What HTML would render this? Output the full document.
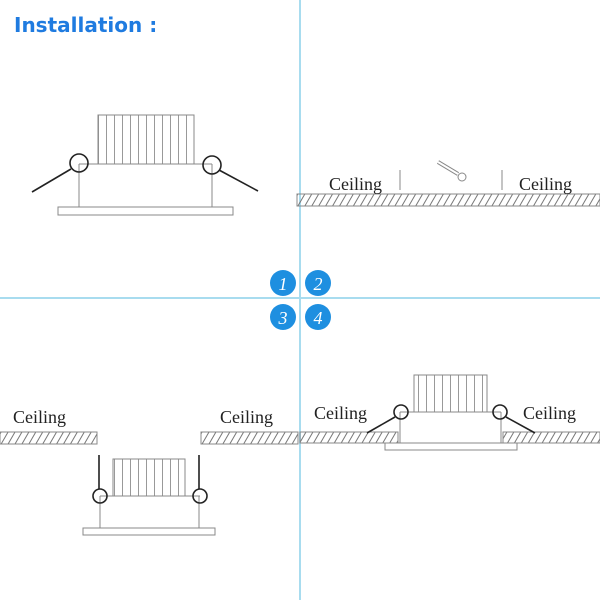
<!DOCTYPE html>
<html><head><style>body{margin:0;background:#fff}svg{display:block}</style></head><body>
<svg width="600" height="600" viewBox="0 0 600 600" xmlns="http://www.w3.org/2000/svg">
<defs>
<pattern id="h" width="6" height="6" patternUnits="userSpaceOnUse" patternTransform="rotate(30)">
<line x1="1" y1="-1" x2="1" y2="7" stroke="#777" stroke-width="1"/>
</pattern>
<pattern id="f" width="8" height="100" patternUnits="userSpaceOnUse" x="98">
<line x1="0.5" y1="0" x2="0.5" y2="100" stroke="#999" stroke-width="1"/>
</pattern>
</defs>
<text x="14" y="32" font-family="DejaVu Sans, sans-serif" font-weight="bold" font-size="20" fill="#1f7be0">Installation :</text>
<line x1="300" y1="0" x2="300" y2="600" stroke="#a8dcef" stroke-width="2"/>
<line x1="0" y1="298" x2="600" y2="298" stroke="#a8dcef" stroke-width="2"/>
<g font-family="Liberation Serif, serif" font-style="italic" font-size="18" fill="#fff" text-anchor="middle">
<circle cx="283" cy="283" r="13" fill="#1e8fe0"/><text x="283" y="290">1</text>
<circle cx="318" cy="283" r="13" fill="#1e8fe0"/><text x="318" y="290">2</text>
<circle cx="283" cy="317" r="13" fill="#1e8fe0"/><text x="283" y="324">3</text>
<circle cx="318" cy="317" r="13" fill="#1e8fe0"/><text x="318" y="324">4</text>
</g>
<g stroke="#888" fill="none" stroke-width="1">
<rect x="98" y="115" width="96" height="49" fill="url(#f)"/>
<rect x="98" y="115" width="96" height="49"/>
<line x1="79" y1="164" x2="212" y2="164"/>
<line x1="79" y1="164" x2="79" y2="207"/><line x1="212" y1="164" x2="212" y2="207"/>
<rect x="58" y="207" width="175" height="8"/>
<rect x="297" y="194" width="303" height="12" fill="url(#h)"/>
<line x1="297" y1="194" x2="600" y2="194"/><line x1="297" y1="206" x2="600" y2="206"/>
<line x1="400" y1="170" x2="400" y2="190"/><line x1="502" y1="170" x2="502" y2="190"/>
<line x1="438" y1="162" x2="458" y2="174" stroke-width="4" stroke="#888"/>
<line x1="438" y1="162" x2="458" y2="174" stroke-width="2" stroke="#fff"/>
<circle cx="462" cy="177" r="4" fill="#fff"/>
<rect x="0" y="432" width="97" height="12" fill="url(#h)"/><rect x="0" y="432" width="97" height="12"/>
<rect x="201" y="432" width="97" height="12" fill="url(#h)"/><rect x="201" y="432" width="97" height="12"/>
<rect x="113" y="459" width="72" height="37" fill="url(#f)"/><rect x="113" y="459" width="72" height="37"/>
<line x1="100" y1="496" x2="200" y2="496"/>
<line x1="100" y1="496" x2="100" y2="528"/><line x1="199" y1="496" x2="199" y2="528"/>
<rect x="83" y="528" width="132" height="7"/>
<rect x="300" y="432" width="98" height="11" fill="url(#h)"/><rect x="300" y="432" width="98" height="11"/>
<rect x="503" y="432" width="97" height="11" fill="url(#h)"/><rect x="503" y="432" width="97" height="11"/>
<rect x="414" y="375" width="73" height="37" fill="url(#f)"/><rect x="414" y="375" width="73" height="37"/>
<line x1="400" y1="412" x2="501" y2="412"/>
<line x1="400" y1="412" x2="400" y2="443"/><line x1="501" y1="412" x2="501" y2="443"/>
<line x1="400" y1="443" x2="501" y2="443"/>
<rect x="385" y="443" width="132" height="7"/>
</g>
<g stroke="#222" fill="none" stroke-width="1.6">
<circle cx="79" cy="163" r="9"/><circle cx="212" cy="165" r="9"/>
<line x1="71" y1="169" x2="32" y2="192"/><line x1="219" y1="170" x2="258" y2="191"/>
<line x1="99" y1="455" x2="99" y2="489"/><line x1="199" y1="455" x2="199" y2="489"/>
<circle cx="100" cy="496" r="7"/><circle cx="200" cy="496" r="7"/>
<circle cx="401" cy="412" r="7"/><circle cx="500" cy="412" r="7"/>
<line x1="395" y1="417" x2="367" y2="433"/><line x1="506" y1="417" x2="535" y2="433"/>
</g>
<g font-family="Liberation Serif, serif" font-size="18" fill="#222">
<text x="329" y="190">Ceiling</text><text x="519" y="190">Ceiling</text>
<text x="13" y="423">Ceiling</text><text x="220" y="423">Ceiling</text>
<text x="314" y="419">Ceiling</text><text x="523" y="419">Ceiling</text>
</g>
</svg>
</body></html>
